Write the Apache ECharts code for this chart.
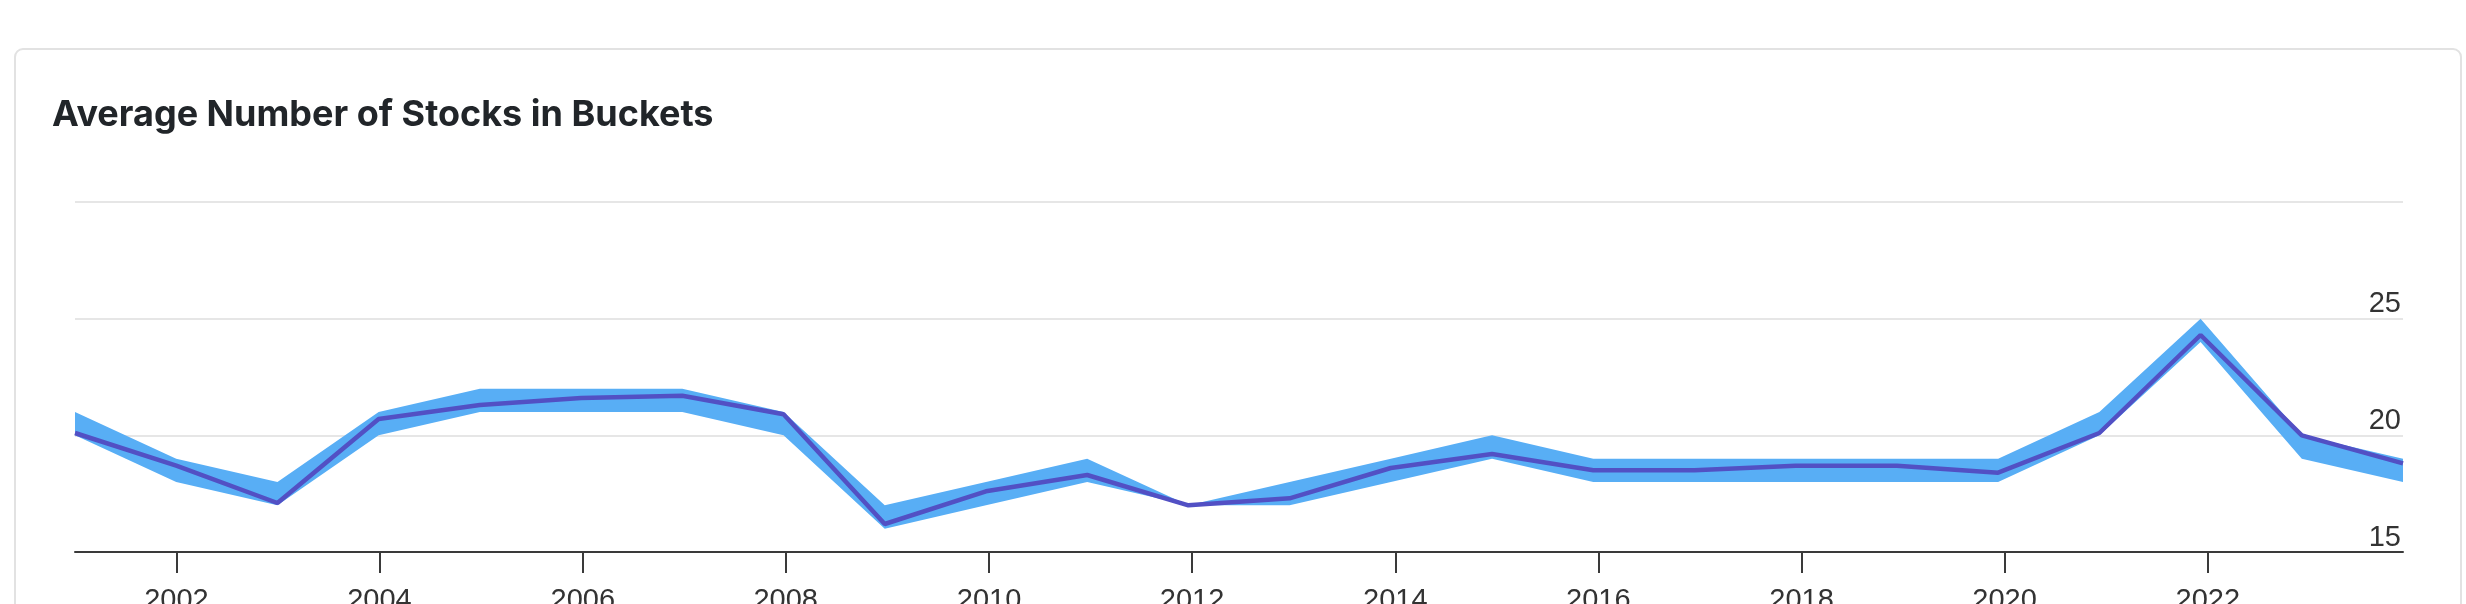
<!DOCTYPE html>
<html>
<head>
<meta charset="utf-8">
<script src="https://cdn.jsdelivr.net/npm/echarts@6/dist/echarts.min.js"></script>
<style>
  html, body { margin: 0; padding: 0; background: #ffffff; width: 2466px; height: 604px; overflow: hidden; }
  #card { position: absolute; left: 14px; top: 48px; width: 2444px; height: 700px; border: 2px solid #e2e2e2; border-radius: 9px; background: #fff; }
  #chart { position: absolute; left: 0; top: 0; width: 2466px; height: 604px; }
</style>
</head>
<body>
<div id="card"></div>
<div id="chart"></div>
<script>
// Observation dates (52-week steps)
const dates = [
  '2001-01-01','2001-12-31','2002-12-30','2003-12-29','2004-12-27','2005-12-26',
  '2006-12-25','2007-12-24','2008-12-22','2009-12-21','2010-12-20','2011-12-19',
  '2012-12-17','2013-12-16','2014-12-15','2015-12-14','2016-12-12','2017-12-11',
  '2018-12-10','2019-12-09','2020-12-07','2021-12-06','2022-12-05','2023-12-04'
];
// Range of bucket sizes (min / max) and average
const lowerValues = [20,18,17,20,21,21,21,20,16,17,18,17,17,18,19,18,18,18,18,18,20,24,19,18];
const upperValues = [21,19,18,21,22,22,22,21,17,18,19,17,18,19,20,19,19,19,19,19,21,25,20,19];
const avgValues   = [20.1,18.7,17.1,20.7,21.3,21.6,21.7,20.9,16.2,17.6,18.3,17.0,17.3,18.6,19.2,18.5,18.5,18.7,18.7,18.4,20.1,24.3,20.0,18.8];
// X tick labels
const xTickLabels = ['2002','2004','2006','2008','2010','2012','2014','2016','2018','2020','2022'];
const yMin = 15, yMax = 30, yStep = 5;
const titleText = 'Average Number of Stocks in Buckets';

const toTs = s => Date.parse(s + 'T00:00:00Z');
const tickTs = xTickLabels.map(y => toTs(y + '-01-01'));
const bandData = dates.map((d, i) => [toTs(d), lowerValues[i], upperValues[i]]);
const avgData = dates.map((d, i) => [toTs(d), avgValues[i]]);

function renderBand(params, api) {
  if (params.dataIndex !== 0) return null;
  const pts = [];
  for (let i = 0; i < bandData.length; i++) pts.push(api.coord([bandData[i][0], bandData[i][2]]));
  for (let i = bandData.length - 1; i >= 0; i--) pts.push(api.coord([bandData[i][0], bandData[i][1]]));
  return {
    type: 'polygon',
    shape: { points: pts },
    style: { fill: '#58aef5', stroke: null }
  };
}

const chart = echarts.init(document.getElementById('chart'), null, { renderer: 'canvas' });
const labelFont = '"Liberation Sans", Arial, Helvetica, sans-serif';
chart.setOption({
  animation: false,
  title: {
    text: titleText,
    left: 52, top: 97, padding: 0,
    textStyle: { fontFamily: 'Inter, "Liberation Sans", sans-serif', fontWeight: 700, fontSize: 36, color: '#212529' }
  },
  grid: { left: 75, right: 63, top: 202, bottom: 52, containLabel: false, outerBoundsMode: 'none' },
  xAxis: {
    type: 'value',
    min: toTs(dates[0]),
    max: toTs(dates[dates.length - 1]),
    axisLine: { show: true, onZero: false, lineStyle: { color: '#3a3a3a', width: 2 } },
    axisTick: { show: true, length: 21, lineStyle: { color: '#3a3a3a', width: 2 }, customValues: tickTs },
    axisLabel: {
      customValues: tickTs,
      formatter: function (v) { return String(new Date(v).getUTCFullYear()); },
      fontSize: 29, fontFamily: labelFont, color: '#333333', margin: 34
    },
    splitLine: { show: false }
  },
  yAxis: {
    type: 'value',
    position: 'right',
    min: yMin, max: yMax, interval: yStep,
    axisLine: { show: false },
    axisTick: { show: false },
    axisLabel: {
      inside: true, margin: 2, showMaxLabel: false,
      verticalAlign: 'bottom', align: 'right',
      fontSize: 29, fontFamily: labelFont, color: '#333333'
    },
    splitLine: { show: true, lineStyle: { color: '#e6e6e6', width: 2 } }
  },
  series: [
    {
      name: 'Range', type: 'custom', data: bandData,
      encode: { x: 0, y: [1, 2] },
      renderItem: renderBand, silent: true, z: 1
    },
    {
      name: 'Average', type: 'line', data: avgData,
      symbol: 'none', lineStyle: { color: '#5250c4', width: 4.5 }, z: 3
    }
  ]
});
</script>
</body>
</html>
